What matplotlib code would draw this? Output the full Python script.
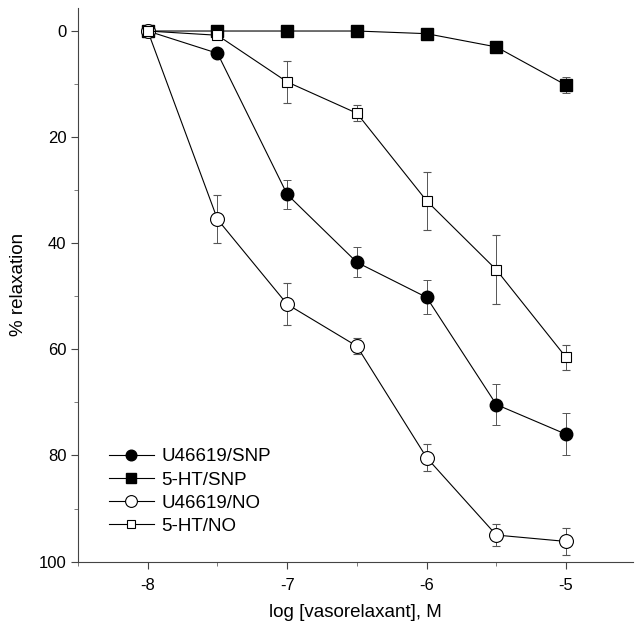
import matplotlib
matplotlib.use("Agg")
import matplotlib.pyplot as plt
from matplotlib.ticker import MultipleLocator

plt.rcParams['font.family'] = ['Liberation Sans', 'DejaVu Sans']
plt.rcParams['axes.unicode_minus'] = False

# log concentration
log_conc = [-8, -7.5, -7, -6.5, -6, -5.5, -5]

u_snp = [0, 4.2, 30.8, 43.6, 50.2, 70.4, 76.0]
u_snp_err = [0, 0.8, 2.8, 2.8, 3.2, 3.8, 4.0]

ht_snp = [0, 0, 0, 0, 0.5, 3.0, 10.2]
ht_snp_err = [0, 0, 0, 0, 0, 0, 1.5]

u_no = [0, 35.5, 51.5, 59.4, 80.4, 95.0, 96.2]
u_no_err = [0, 4.5, 4.0, 1.5, 2.5, 2.0, 2.5]

ht_no = [0, 0.8, 9.6, 15.5, 32.0, 45.0, 61.5]
ht_no_err = [0, 0, 4.0, 1.5, 5.5, 6.5, 2.3]

fig = plt.figure(figsize=(6.4, 6.31), dpi=100)
ax = fig.add_axes([0.122, 0.11, 0.867, 0.877])

common = dict(color='black', lw=0.8, ms=9, capsize=3, elinewidth=0.7,
              capthick=0.7, ecolor='#555555')
c1 = ax.errorbar(log_conc, u_snp, yerr=u_snp_err, marker='o', mfc='black',
                 mec='black', label='U46619/SNP', **common)
c2 = ax.errorbar(log_conc, ht_snp, yerr=ht_snp_err, marker='s', mfc='black',
                 mec='black', label='5-HT/SNP', **dict(common, ms=8))
c3 = ax.errorbar(log_conc, u_no, yerr=u_no_err, marker='o', mfc='white',
                 mec='black', mew=0.8, label='U46619/NO', **dict(common, ms=10))
c4 = ax.errorbar(log_conc, ht_no, yerr=ht_no_err, marker='s', mfc='white',
                 mec='black', mew=0.8, label='5-HT/NO', **dict(common, ms=7))

ax.set_xlim(-8.5, -4.52)
ax.set_ylim(100, -4.3)
ax.xaxis.set_major_locator(MultipleLocator(1))
ax.xaxis.set_minor_locator(MultipleLocator(0.5))
ax.yaxis.set_major_locator(MultipleLocator(20))
ax.yaxis.set_minor_locator(MultipleLocator(10))

ax.spines['right'].set_color('none')
ax.spines['top'].set_color('none')
ax.spines['left'].set_color('#444444')
ax.spines['bottom'].set_color('#444444')
ax.tick_params(which='major', length=5, width=0.8, color='#444444', labelsize=12)
ax.tick_params(which='minor', length=3, width=0.6, color='#666666')
ax.tick_params(axis='x', pad=7)

ax.set_xlabel('log [vasorelaxant], M', fontsize=13.5, labelpad=8)
ax.set_ylabel('% relaxation', fontsize=13.5, labelpad=8)

handles = [c[0] for c in (c1, c2, c3, c4)]
labels = ['U46619/SNP', '5-HT/SNP', 'U46619/NO', '5-HT/NO']
ax.legend(handles, labels, loc='lower left', bbox_to_anchor=(0.025, 0.018),
          frameon=False, fontsize=13.5, handlelength=2.4, labelspacing=0.32,
          handletextpad=0.4, markerscale=0.85)

fig.savefig('out.png', dpi=100)
